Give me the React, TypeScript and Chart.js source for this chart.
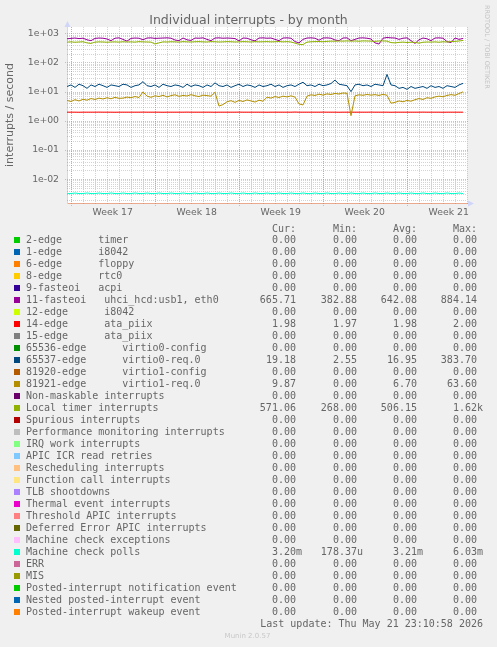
import React, { useEffect, useRef } from 'react';
import { Chart, registerables } from 'chart.js';

Chart.register(...registerables);

// ---------- time axis ----------
const HOURS_PER_POINT = 8;
const X_MAX_HOURS = 800;
const WEEK17_START_HOURS = 7.5;
const weekLabels = ['Week 17', 'Week 18', 'Week 19', 'Week 20', 'Week 21'];

// ---------- value axis ----------
const Y_MIN = 0.00152;
const Y_MAX = 1648;
const yTickValues = [0.01, 0.1, 1, 10, 100, 1000];
const yTickLabels = ['1e-02', '1e-01', '1e+00', '1e+01', '1e+02', '1e+03'];

// ---------- plotted series (interrupts / second) ----------
const fasteoi11 = [
  650, 670, 690, 660, 680, 600, 560, 670, 690, 680,
  640, 560, 680, 700, 620, 540, 670, 690, 680, 600,
  690, 700, 670, 680, 690, 700, 680, 590, 560, 690,
  600, 570, 690, 680, 700, 620, 560, 690, 700, 680,
  690, 680, 660, 550, 690, 680, 600, 550, 690, 700,
  680, 690, 620, 560, 690, 700, 680, 520, 470, 620,
  690, 700, 680, 580, 690, 700, 680, 590, 560, 690,
  700, 560, 620, 690, 700, 680, 640, 470, 430, 680,
  720, 700, 690, 620, 680, 700, 560, 450, 600, 690,
  650, 560, 690, 700, 680, 520, 480, 690, 620, 665.71,
];

const edge14 = [
  1.98, 1.98, 1.98, 1.97, 1.98, 1.98, 1.98, 1.98, 1.99, 1.98,
  1.98, 1.98, 1.97, 1.98, 1.98, 1.98, 1.98, 1.98, 1.98, 1.99,
  1.98, 1.98, 1.98, 1.98, 1.97, 1.98, 1.98, 1.98, 1.98, 1.98,
  1.99, 1.98, 1.98, 1.98, 1.98, 1.98, 1.98, 1.97, 1.98, 1.98,
  1.98, 1.98, 1.98, 1.99, 1.98, 1.98, 1.98, 1.98, 1.98, 1.98,
  1.97, 1.98, 1.98, 1.98, 1.98, 1.98, 1.98, 2.0, 1.98, 1.98,
  1.98, 1.98, 1.98, 1.98, 1.99, 1.98, 1.98, 1.98, 1.97, 1.98,
  1.98, 1.98, 1.98, 1.98, 1.98, 1.98, 1.99, 1.98, 1.98, 1.98,
  1.98, 1.97, 1.98, 1.98, 1.98, 1.98, 1.98, 1.98, 1.98, 1.99,
  1.98, 1.98, 1.98, 1.98, 1.97, 1.98, 1.98, 1.98, 1.98, 1.98,
];

const edge65537 = [
  15, 17, 14, 18, 16, 13, 17, 15, 18, 16,
  14, 17, 16, 15, 18, 17, 14, 16, 17, 22,
  16, 15, 17, 14, 18, 16, 15, 17, 16, 14,
  18, 15, 17, 16, 14, 17, 15, 20, 16, 15,
  17, 14, 16, 18, 15, 17, 16, 14, 17, 15,
  16, 18, 15, 17, 14, 16, 17, 15, 18, 21,
  16, 17, 15, 18, 16, 17, 19, 25, 18, 17,
  16, 10, 17, 18, 16, 17, 15, 18, 17, 16,
  39, 17, 16, 13, 14, 12, 15, 13, 14, 15,
  13, 16, 14, 15, 13, 16, 15, 14, 17, 19.18,
];

const edge81921 = [
  5.0, 4.6, 5.3, 4.8, 5.5, 5.1, 5.8, 5.4, 6.0, 5.6,
  6.2, 5.7, 6.4, 5.9, 6.0, 6.5, 6.2, 6.8, 6.3, 9.8,
  7.0, 6.4, 7.2, 6.8, 7.5, 6.6, 7.3, 7.8, 6.9, 7.4,
  7.1, 7.9, 7.2, 6.8, 7.6, 7.3, 7.0, 9.5, 3.2, 3.6,
  4.5, 4.9, 4.3, 5.0, 4.6, 5.2, 4.8, 4.4, 5.1, 4.7,
  6.5, 6.0, 6.8, 6.3, 7.0, 6.6, 7.2, 6.5, 3.8, 3.5,
  7.0, 7.8, 7.4, 8.2, 7.6, 8.4, 8.0, 8.7, 8.3, 9.0,
  8.8, 1.5, 7.2, 7.8, 7.5, 8.0, 7.6, 7.9, 7.4, 8.1,
  7.5, 4.0, 4.3, 4.8, 4.5, 5.0, 4.7, 5.3, 5.8, 5.4,
  6.2, 5.9, 6.6, 7.0, 6.7, 7.4, 7.9, 7.5, 8.6, 9.87,
];

const localTimer = [
  500, 510, 495, 505, 515, 470, 450, 500, 510, 505,
  495, 505, 510, 500, 515, 505, 510, 500, 520, 510,
  505, 500, 430, 470, 510, 505, 515, 510, 500, 520,
  510, 505, 515, 520, 510, 505, 520, 515, 505, 510,
  520, 515, 505, 510, 520, 515, 505, 520, 510, 515,
  520, 510, 515, 525, 510, 520, 505, 460, 420, 410,
  500, 515, 520, 525, 515, 530, 540, 535, 545, 540,
  550, 540, 545, 535, 550, 545, 540, 530, 545, 550,
  540, 480, 470, 490, 500, 485, 495, 490, 460, 495,
  505, 500, 510, 495, 515, 505, 520, 530, 545, 571.06,
];

const machineCheckPolls = [
  0.00320, 0.00320, 0.00334, 0.00320, 0.00321, 0.00335, 0.00320, 0.00320, 0.00334, 0.00320,
  0.00321, 0.00335, 0.00320, 0.00320, 0.00334, 0.00320, 0.00320, 0.00335, 0.00321, 0.00320,
  0.00334, 0.00320, 0.00320, 0.00335, 0.00320, 0.00321, 0.00334, 0.00320, 0.00320, 0.00335,
  0.00320, 0.00320, 0.00334, 0.00321, 0.00320, 0.00335, 0.00320, 0.00320, 0.00334, 0.00320,
  0.00321, 0.00335, 0.00320, 0.00320, 0.00334, 0.00320, 0.00320, 0.00335, 0.00321, 0.00320,
  0.00334, 0.00320, 0.00320, 0.00335, 0.00320, 0.00321, 0.00334, 0.00320, 0.00320, 0.00335,
  0.00320, 0.00320, 0.00334, 0.00321, 0.00320, 0.00335, 0.00320, 0.00320, 0.00334, 0.00320,
  0.00321, 0.00335, 0.00320, 0.00320, 0.00334, 0.00320, 0.00320, 0.00335, 0.00321, 0.00320,
  0.00334, 0.00320, 0.00320, 0.00335, 0.00320, 0.00321, 0.00334, 0.00320, 0.00320, 0.00335,
  0.00320, 0.00320, 0.00334, 0.00321, 0.00320, 0.00335, 0.00320, 0.00320, 0.00334, 0.00320,
];

// ---------- legend ----------
const legendNames = [
  '2-edge      timer',
  '1-edge      i8042',
  '6-edge      floppy',
  '8-edge      rtc0',
  '9-fasteoi   acpi',
  '11-fasteoi   uhci_hcd:usb1, eth0',
  '12-edge      i8042',
  '14-edge      ata_piix',
  '15-edge      ata_piix',
  '65536-edge      virtio0-config',
  '65537-edge      virtio0-req.0',
  '81920-edge      virtio1-config',
  '81921-edge      virtio1-req.0',
  'Non-maskable interrupts',
  'Local timer interrupts',
  'Spurious interrupts',
  'Performance monitoring interrupts',
  'IRQ work interrupts',
  'APIC ICR read retries',
  'Rescheduling interrupts',
  'Function call interrupts',
  'TLB shootdowns',
  'Thermal event interrupts',
  'Threshold APIC interrupts',
  'Deferred Error APIC interrupts',
  'Machine check exceptions',
  'Machine check polls',
  'ERR',
  'MIS',
  'Posted-interrupt notification event',
  'Nested posted-interrupt event',
  'Posted-interrupt wakeup event',
];

const legendColors = [
  '#00CC00', '#0066B3', '#FF8000', '#FFCC00', '#330099', '#990099', '#CCFF00', '#FF0000',
  '#808080', '#008F00', '#00487D', '#B35A00', '#B38F00', '#6B006B', '#8FB300', '#B30000',
  '#BEBEBE', '#80FF80', '#80C9FF', '#FFC080', '#FFE680', '#AA80FF', '#EE00CC', '#FF8080',
  '#666600', '#FFBFFF', '#00FFCC', '#CC6699', '#999900', '#00CC00', '#0066B3', '#FF8000',
];

const curValues = [
  '0.00', '0.00', '0.00', '0.00', '0.00', '665.71', '0.00', '1.98', '0.00', '0.00', '19.18',
  '0.00', '9.87', '0.00', '571.06', '0.00', '0.00', '0.00', '0.00', '0.00', '0.00', '0.00',
  '0.00', '0.00', '0.00', '0.00', '3.20m', '0.00', '0.00', '0.00', '0.00', '0.00',
];
const minValues = [
  '0.00', '0.00', '0.00', '0.00', '0.00', '382.88', '0.00', '1.97', '0.00', '0.00', '2.55',
  '0.00', '0.00', '0.00', '268.00', '0.00', '0.00', '0.00', '0.00', '0.00', '0.00', '0.00',
  '0.00', '0.00', '0.00', '0.00', '178.37u', '0.00', '0.00', '0.00', '0.00', '0.00',
];
const avgValues = [
  '0.00', '0.00', '0.00', '0.00', '0.00', '642.08', '0.00', '1.98', '0.00', '0.00', '16.95',
  '0.00', '6.70', '0.00', '506.15', '0.00', '0.00', '0.00', '0.00', '0.00', '0.00', '0.00',
  '0.00', '0.00', '0.00', '0.00', '3.21m', '0.00', '0.00', '0.00', '0.00', '0.00',
];
const maxValues = [
  '0.00', '0.00', '0.00', '0.00', '0.00', '884.14', '0.00', '2.00', '0.00', '0.00', '383.70',
  '0.00', '63.60', '0.00', '1.62k', '0.00', '0.00', '0.00', '0.00', '0.00', '0.00', '0.00',
  '0.00', '0.00', '0.00', '0.00', '6.03m', '0.00', '0.00', '0.00', '0.00', '0.00',
];
const columnHeaders = ['Cur:', 'Min:', 'Avg:', 'Max:'];

const TITLE = 'Individual interrupts - by month';
const Y_TITLE = 'interrupts / second';
const WATERMARK = 'RRDTOOL / TOBI OETIKER';
const LAST_UPDATE = 'Last update: Thu May 21 23:10:58 2026';
const VERSION = 'Munin 2.0.57';

// which legend entries are drawn (non-zero series)
const plotted: { legendIndex: number; values: number[] }[] = [
  { legendIndex: 5, values: fasteoi11 },
  { legendIndex: 7, values: edge14 },
  { legendIndex: 10, values: edge65537 },
  { legendIndex: 12, values: edge81921 },
  { legendIndex: 14, values: localTimer },
  { legendIndex: 26, values: machineCheckPolls },
];

const FONT_COLOR = '#666666';
const AXIS_COLOR = '#CFD6F8';
const MINOR_GRID = 'rgba(140,140,140,0.38)';
const MAJOR_GRID = 'rgba(230,120,120,0.55)';

const rrdPlugin = {
  id: 'rrdDecor',
  beforeDraw(chart: any) {
    const { ctx, chartArea: a } = chart;
    ctx.save();
    ctx.fillStyle = '#ffffff';
    ctx.fillRect(a.left, a.top, a.right - a.left, a.bottom - a.top);
    ctx.restore();
  },
  beforeDatasetsDraw(chart: any) {
    const { ctx, chartArea: a, scales } = chart;
    const xs = scales.x;
    const ys = scales.y;
    ctx.save();
    ctx.lineWidth = 1;
    ctx.setLineDash([1, 1]);
    const hline = (v: number, color: string, ext: number) => {
      const py = Math.round(ys.getPixelForValue(v)) + 0.5;
      ctx.strokeStyle = color;
      ctx.beginPath();
      ctx.moveTo(a.left - ext, py);
      ctx.lineTo(a.right + ext, py);
      ctx.stroke();
    };
    const vline = (t: number, color: string, ext: number) => {
      const px = Math.round(xs.getPixelForValue(t)) + 0.5;
      ctx.strokeStyle = color;
      ctx.beginPath();
      ctx.moveTo(px, a.top);
      ctx.lineTo(px, a.bottom + ext);
      ctx.stroke();
    };
    for (let e = -3; e <= 3; e++) {
      for (let m = 2; m <= 9; m++) {
        const v = m * Math.pow(10, e);
        if (v > Y_MIN && v < Y_MAX) hline(v, MINOR_GRID, 0);
      }
    }
    for (let t = WEEK17_START_HOURS; t < X_MAX_HOURS; t += 24) vline(t, MINOR_GRID, 2);
    yTickValues.forEach((v) => hline(v, MAJOR_GRID, 2));
    for (let t = WEEK17_START_HOURS; t < X_MAX_HOURS; t += 168) vline(t, MAJOR_GRID, 3);
    ctx.restore();
  },
  afterDraw(chart: any) {
    const { ctx, chartArea: a } = chart;
    ctx.save();
    // arrows
    ctx.fillStyle = AXIS_COLOR;
    const lx = a.left + 0.5;
    ctx.beginPath();
    ctx.moveTo(lx, a.top - 6);
    ctx.lineTo(lx - 3, a.top);
    ctx.lineTo(lx + 3, a.top);
    ctx.closePath();
    ctx.fill();
    const by = a.bottom + 0.5;
    ctx.beginPath();
    ctx.moveTo(a.right + 7, by);
    ctx.lineTo(a.right + 1, by - 3);
    ctx.lineTo(a.right + 1, by + 3);
    ctx.closePath();
    ctx.fill();
    // title
    ctx.fillStyle = FONT_COLOR;
    ctx.font = '12.5px "DejaVu Sans"';
    ctx.textAlign = 'center';
    ctx.textBaseline = 'alphabetic';
    ctx.fillText(TITLE, 248.5, 24);
    // watermark
    ctx.translate(487, 5);
    ctx.rotate(Math.PI / 2);
    ctx.fillStyle = '#c4c4c4';
    ctx.font = '6.5px "DejaVu Sans"';
    ctx.textAlign = 'left';
    ctx.textBaseline = 'middle';
    ctx.fillText(WATERMARK, 0, 0);
    ctx.restore();
  },
};

function withSuffixPad(v: string) {
  return /[a-z]$/i.test(v) ? v : v + ' ';
}

export default function App() {
  const canvasRef = useRef<HTMLCanvasElement>(null);

  useEffect(() => {
    const canvas = canvasRef.current;
    if (!canvas) return;
    const datasets = plotted.map((p) => ({
      label: legendNames[p.legendIndex],
      data: p.values.map((v, i) => ({ x: i * HOURS_PER_POINT, y: v })),
      borderColor: legendColors[p.legendIndex],
      backgroundColor: legendColors[p.legendIndex],
      borderWidth: 1,
      pointRadius: 0,
      tension: 0,
      fill: false,
      order: 100 - p.legendIndex,
    }));
    const chart = new Chart(canvas, {
      type: 'line',
      data: { datasets },
      options: {
        animation: false,
        responsive: false,
        events: [],
        layout: { padding: { left: 0, right: 30, top: 27, bottom: 424 } },
        plugins: {
          legend: { display: false },
          tooltip: { enabled: false },
          title: { display: false },
        },
        scales: {
          x: {
            type: 'linear',
            min: 0,
            max: X_MAX_HOURS,
            bounds: 'data',
            z: 1,
            afterBuildTicks: (s: any) => {
              s.ticks = weekLabels.map((_, i) => ({ value: WEEK17_START_HOURS + 84 + 168 * i }));
            },
            afterFit: (s: any) => {
              s.height = 20;
            },
            ticks: {
              autoSkip: false,
              maxRotation: 0,
              color: FONT_COLOR,
              font: { family: 'DejaVu Sans', size: 9.3 },
              padding: 4,
              callback: (_v: any, i: number) => weekLabels[i],
            },
            grid: { display: false, drawTicks: false },
            border: { display: true, color: '#eaa88c', width: 1 },
          },
          y: {
            type: 'logarithmic',
            min: Y_MIN,
            max: Y_MAX,
            bounds: 'data',
            z: 1,
            afterBuildTicks: (s: any) => {
              s.ticks = yTickValues.map((v) => ({ value: v }));
            },
            afterFit: (s: any) => {
              s.width = 67;
            },
            ticks: {
              autoSkip: false,
              color: FONT_COLOR,
              font: { family: 'DejaVu Sans', size: 9.3 },
              padding: 8,
              callback: (_v: any, i: number) => yTickLabels[i],
            },
            grid: { display: false, drawTicks: false },
            border: { display: true, color: AXIS_COLOR, width: 1 },
            title: {
              display: true,
              text: Y_TITLE,
              color: FONT_COLOR,
              font: { family: 'DejaVu Sans', size: 11 },
              padding: { top: 4, bottom: 0 },
            },
          },
        },
      },
      plugins: [rrdPlugin],
    } as any);
    return () => chart.destroy();
  }, []);

  const mono: React.CSSProperties = {
    fontFamily: '"DejaVu Sans Mono", monospace',
    fontSize: 10,
    lineHeight: '12px',
    color: FONT_COLOR,
    whiteSpace: 'pre',
    position: 'absolute',
  };
  const colEdges = [302, 363, 423, 483];
  const cols = [curValues, minValues, avgValues, maxValues];

  return (
    <div
      style={{
        position: 'fixed',
        left: 0,
        top: 0,
        width: 497,
        height: 647,
        background: '#f0f0f0',
        overflow: 'hidden',
      }}
    >
      <canvas
        ref={canvasRef}
        width={497}
        height={647}
        style={{ position: 'absolute', left: 0, top: 0, width: 497, height: 647 }}
      />
      {columnHeaders.map((h, c) => (
        <div key={'h' + c} style={{ ...mono, top: 222.5, right: 497 - colEdges[c] }}>
          {h + ' '}
        </div>
      ))}
      {legendNames.map((name, r) => (
        <React.Fragment key={'r' + r}>
          <div
            style={{
              position: 'absolute',
              left: 14,
              top: 234 + r * 12 + 3,
              width: 6,
              height: 6,
              background: legendColors[r],
            }}
          />
          <div style={{ ...mono, left: 26, top: 234 + r * 12 }}>{name}</div>
          {cols.map((col, c) => (
            <div key={'c' + c} style={{ ...mono, top: 234 + r * 12, right: 497 - colEdges[c] }}>
              {withSuffixPad(col[r])}
            </div>
          ))}
        </React.Fragment>
      ))}
      <div style={{ ...mono, top: 618, right: 497 - 483 }}>{LAST_UPDATE}</div>
      <div
        style={{
          position: 'absolute',
          top: 631,
          left: 0,
          width: 495,
          textAlign: 'center',
          fontFamily: '"DejaVu Sans", sans-serif',
          fontSize: 7,
          lineHeight: '10px',
          color: '#c8c8c8',
          whiteSpace: 'pre',
        }}
      >
        {VERSION}
      </div>
    </div>
  );
}
